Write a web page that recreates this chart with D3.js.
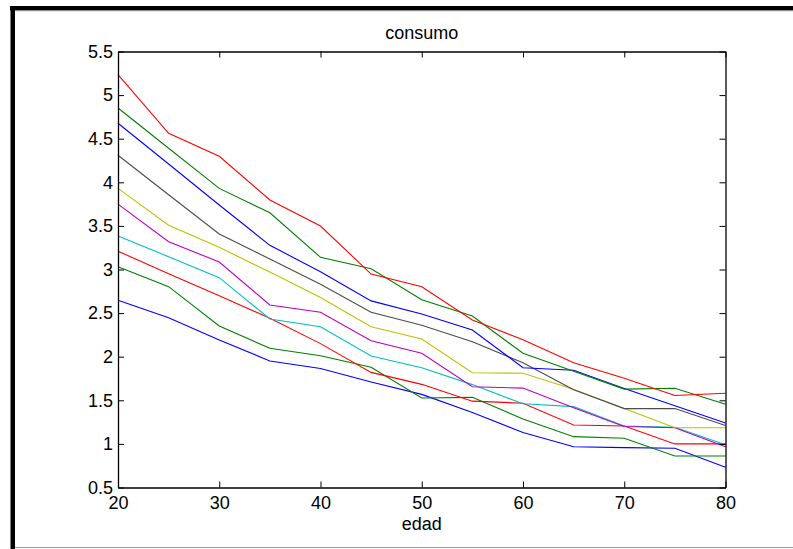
<!DOCTYPE html>
<html>
<head>
<meta charset="utf-8">
<script src="https://cdn.jsdelivr.net/npm/d3@7"></script>
<style>
  html, body { margin: 0; padding: 0; background: #fff; }
  svg { display: block; }
  text { font-family: "Liberation Sans", Arial, Helvetica, sans-serif; fill: #000; }
</style>
</head>
<body>
<svg id="chart" width="793" height="549"></svg>
<script>
// ---- data ----
const ages = [20, 25, 30, 35, 40, 45, 50, 55, 60, 65, 70, 75, 80];
const xTicks = [20, 30, 40, 50, 60, 70, 80];
const yTicks = [0.5, 1, 1.5, 2, 2.5, 3, 3.5, 4, 4.5, 5, 5.5];
const title = "consumo";
const xLabel = "edad";

// series in drawing order (MATLAB colour order b g r c m y k b g r)
const s1 = [2.647, 2.447, 2.192, 1.951, 1.865, 1.71, 1.568, 1.36, 1.13, 0.968, 0.957, 0.95, 0.732];
const s2 = [3.032, 2.803, 2.352, 2.096, 2.01, 1.88, 1.526, 1.534, 1.285, 1.083, 1.064, 0.861, 0.861];
const s3 = [3.21, 2.95, 2.70, 2.44, 2.15, 1.82, 1.683, 1.49, 1.467, 1.217, 1.205, 1.0, 1.0];
const s4 = [3.384, 3.147, 2.906, 2.432, 2.344, 2.008, 1.874, 1.68, 1.46, 1.427, 1.205, 1.19, 0.99];
const s5 = [3.75, 3.319, 3.086, 2.593, 2.51, 2.183, 2.039, 1.656, 1.64, 1.415, 1.2, 1.186, 0.968];
const s6 = [3.93, 3.507, 3.255, 2.97, 2.68, 2.344, 2.203, 1.816, 1.81, 1.626, 1.405, 1.186, 1.186];
const s7 = [4.31, 3.857, 3.407, 3.12, 2.83, 2.51, 2.36, 2.172, 1.93, 1.62, 1.405, 1.405, 1.21];
const s8 = [4.677, 4.21, 3.74, 3.277, 2.975, 2.64, 2.49, 2.306, 1.874, 1.845, 1.636, 1.437, 1.24];
const s9 = [4.852, 4.39, 3.93, 3.651, 3.14, 3.009, 2.654, 2.467, 2.039, 1.832, 1.628, 1.638, 1.454];
const s10 = [5.234, 4.562, 4.298, 3.797, 3.499, 2.948, 2.803, 2.42, 2.195, 1.93, 1.752, 1.555, 1.58];
const seriesList = [s1, s2, s3, s4, s5, s6, s7, s8, s9, s10];
const colors = ["#0000ff", "#008000", "#ff0000", "#00bfbf", "#bf00bf", "#bfbf00", "#4d4d4d", "#0000ff", "#008000", "#ff0000"];

// ---- layout ----
const svg = d3.select("#chart");
const L = 118, R = 725.5, T = 51.5, B = 487.5;
const x = d3.scaleLinear().domain([20, 80]).range([L, R]);
const y = d3.scaleLinear().domain([0.5, 5.5]).range([B, T]);

// figure frame (black on left/top, grey at bottom)
svg.append("rect").attr("x", 10).attr("y", 6).attr("width", 793 - 10).attr("height", 4.5).attr("fill", "#000");
svg.append("line").attr("x1", 10).attr("x2", 793).attr("y1", 10.8).attr("y2", 10.8).attr("stroke", "#999").attr("stroke-width", 0.8);
svg.append("rect").attr("x", 10.5).attr("y", 6).attr("width", 4.5).attr("height", 549 - 6).attr("fill", "#000");
svg.append("line").attr("x1", 15).attr("x2", 793).attr("y1", 547.5).attr("y2", 547.5).attr("stroke", "#999").attr("stroke-width", 1.2);

// data lines
const line = d3.line().x((d, i) => x(ages[i])).y(d => y(d));
svg.append("g").selectAll("path").data(seriesList).join("path")
  .attr("d", d => line(d))
  .attr("fill", "none")
  .attr("stroke", (d, i) => colors[i])
  .attr("stroke-width", 1.1);

// axes with inward ticks on all four sides
const fs = 18;
const axB = svg.append("g").attr("transform", `translate(0,${B})`)
  .call(d3.axisBottom(x).tickValues(xTicks).tickSizeInner(-6).tickSizeOuter(0).tickPadding(9).tickFormat(d3.format("d")));
const axT = svg.append("g").attr("transform", `translate(0,${T})`)
  .call(d3.axisTop(x).tickValues(xTicks).tickSizeInner(-6).tickSizeOuter(0).tickFormat(""));
const axL = svg.append("g").attr("transform", `translate(${L},0)`)
  .call(d3.axisLeft(y).tickValues(yTicks).tickSizeInner(-6).tickSizeOuter(0).tickPadding(5).tickFormat(d => String(d)));
const axR = svg.append("g").attr("transform", `translate(${R},0)`)
  .call(d3.axisRight(y).tickValues(yTicks).tickSizeInner(-6).tickSizeOuter(0).tickFormat(""));
[axB, axT, axL, axR].forEach(g => {
  g.select(".domain").attr("stroke", "#000").attr("stroke-width", 1.3);
  g.selectAll(".tick line").attr("stroke", "#000").attr("stroke-width", 1);
  g.selectAll("text").attr("font-family", "Liberation Sans, Arial, sans-serif").attr("font-size", fs).attr("fill", "#000");
});

// title and x label
svg.append("text").attr("x", (L + R) / 2).attr("y", 39).attr("text-anchor", "middle").attr("font-size", fs).text(title);
svg.append("text").attr("x", (L + R) / 2).attr("y", 530).attr("text-anchor", "middle").attr("font-size", fs).text(xLabel);
</script>
</body>
</html>
